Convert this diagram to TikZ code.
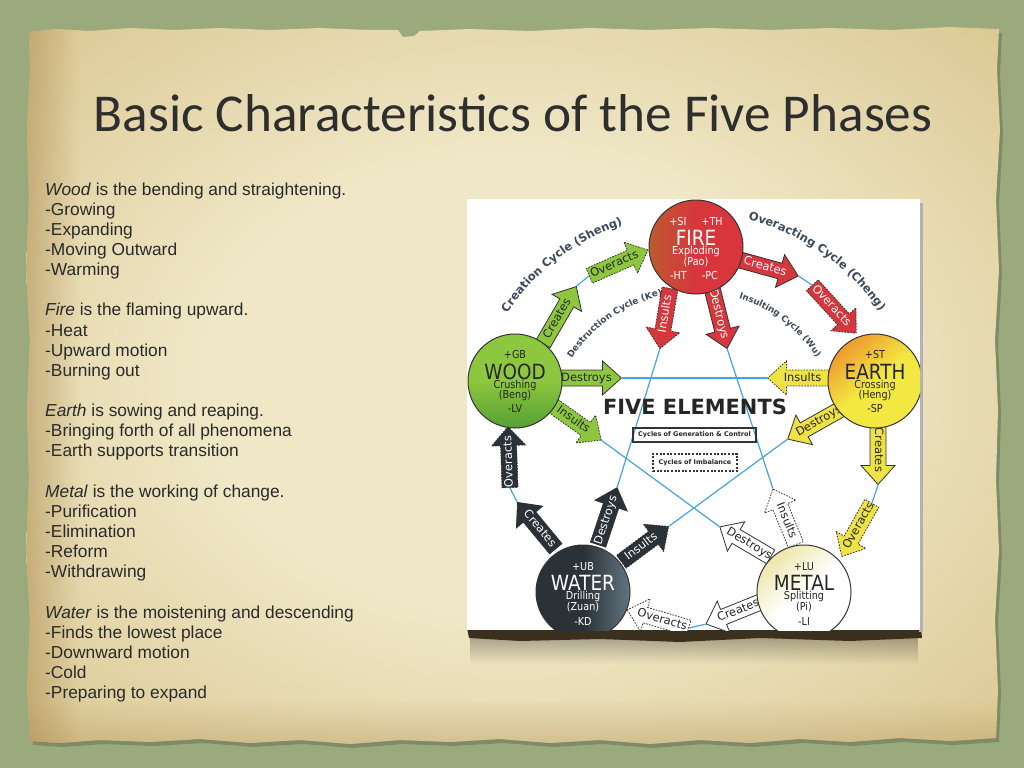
\documentclass[tikz,border=0pt]{standalone}
\usepackage{fontspec}
\setmainfont{Liberation Sans}
\newfontfamily\titlefont{Carlito}
\newfontfamily\dejavu{DejaVu Sans}
\newfontfamily\dejacond{DejaVu Sans}[FakeStretch=0.88]
\usetikzlibrary{shapes.arrows,decorations.text,fadings,calc}

\definecolor{felt}{HTML}{9BAA7D}
\definecolor{parchlight}{HTML}{EFE7C6}
\definecolor{parchmid}{HTML}{DDCB98}
\definecolor{parchdark}{HTML}{C2A062}
\definecolor{parchbrown}{HTML}{A9864C}
\definecolor{titlegray}{HTML}{2E2E2E}
\definecolor{inkbody}{HTML}{2A2A2A}
\definecolor{inkdark}{HTML}{262626}
\definecolor{edgegray}{HTML}{333333}
\definecolor{firered}{HTML}{D8363C}
\definecolor{firebrown}{HTML}{B4662C}
\definecolor{firearrowred}{HTML}{D5373D}
\definecolor{woodgreen}{HTML}{8DC63F}
\definecolor{wooddark}{HTML}{55A033}
\definecolor{earthyellow}{HTML}{F3E842}
\definecolor{earthorange}{HTML}{EE9A2E}
\definecolor{eartharrowyellow}{HTML}{EEE244}
\definecolor{waterdark}{HTML}{2A3137}
\definecolor{waterlight}{HTML}{617580}
\definecolor{metalcream}{HTML}{EDE7A8}
\definecolor{linkblue}{HTML}{45A3DD}
\definecolor{cyctext}{HTML}{3C4A5B}

\pgfdeclareradialshading{parchment}{\pgfpoint{0bp}{0bp}}{color(0bp)=(parchlight); color(16bp)=(parchlight); color(34bp)=(parchmid); color(48bp)=(parchdark); color(72bp)=(parchbrown)}

\newcommand\parchedge{(29,32) -- (55,29) -- (90,31) -- (130,28) -- (175,30) -- (220,28) -- (270,30) -- (320,28) -- (368,30) -- (398,30) -- (403,37) -- (414,36) -- (420,31) -- (470,29) -- (530,31) -- (590,28) -- (650,30) -- (710,28) -- (770,30) -- (830,28) -- (890,30) -- (950,27) -- (999,29)
  -- (997,70) -- (1000,130) -- (996,200) -- (999,270) -- (995,340) -- (998,410) -- (996,480) -- (999,550) -- (995,620) -- (998,690) -- (996,738)
  -- (950,741) -- (900,738) -- (850,742) -- (800,739) -- (750,743) -- (700,740) -- (650,744) -- (600,740) -- (550,743) -- (500,739) -- (450,742) -- (400,740) -- (350,744) -- (300,740) -- (250,743) -- (200,739) -- (150,742) -- (100,740) -- (60,743) -- (30,741)
  -- (27,690) -- (30,620) -- (26,550) -- (29,480) -- (27,410) -- (30,340) -- (26,270) -- (29,200) -- (27,130) -- (30,70) -- cycle}

\newcommand\cycfont{\dejavu\bfseries\fontsize{11.5}{12}\selectfont\color{cyctext}}
\newcommand\cycsmallfont{\dejavu\bfseries\fontsize{9}{9}\selectfont\color{cyctext}}

\tikzset{
  bodytext/.style={anchor=base west, inner sep=0pt, text=inkbody, font=\fontsize{17.4}{20}\selectfont},
  phasearrow/.style={single arrow, draw=edgegray, line width=0.8bp, single arrow head extend=9bp,
    single arrow tip angle=84, inner xsep=-4bp, inner ysep=2bp, text height=8.6bp, text depth=2.6bp,
    anchor=tail, font=\dejavu\fontsize{11.5}{11.5}\selectfont},
  reversed/.style={shape border rotate=180},
  imbalance/.style={dash pattern=on 1.6bp off 1.3bp},
  firearrow/.style={phasearrow, fill=firearrowred, text=white},
  woodarrow/.style={phasearrow, fill=woodgreen, text=inkdark},
  eartharrow/.style={phasearrow, fill=eartharrowyellow, text=inkdark},
  metalarrow/.style={phasearrow, fill=white, text=inkdark},
  waterarrow/.style={phasearrow, fill=waterdark, text=white},
  cyclink/.style={draw=linkblue, line width=1.2bp},
  phase/.style={circle, draw=edgegray, line width=1bp, minimum size=94bp, inner sep=0pt},
  phasename/.style={inner sep=0pt, font=\dejacond\fontsize{21}{21}\selectfont},
  phasenote/.style={inner sep=0pt, font=\dejacond\fontsize{11}{11}\selectfont},
}

\begin{document}
\begin{tikzpicture}[x=1bp, y=-1bp]
\useasboundingbox (0,0) rectangle (1024,768);

% felt and parchment
\fill[felt] (0,0) rectangle (1024,768);
\fill[black, opacity=0.18, xshift=3bp, yshift=-4bp] \parchedge;
\shade[shading=parchment] \parchedge;
\begin{scope}
\clip \parchedge;
\fill[parchbrown, opacity=0.55, path fading=east] (20,20) rectangle (80,750);
\fill[parchbrown, opacity=0.35, path fading=north] (20,700) rectangle (1005,750);
\end{scope}

\node[font=\titlefont\fontsize{53.5}{53.5}\selectfont, text=titlegray, anchor=base] (title) at (513,131) {Basic Characteristics of the Five Phases};

\foreach \n/\words in {0/{\textit{Wood} is the bending and straightening.}, 1/-Growing, 2/-Expanding, 3/-Moving Outward, 4/-Warming,
    6/{\textit{Fire} is the flaming upward.}, 7/-Heat, 8/-Upward motion, 9/-Burning out,
    11/{\textit{Earth} is sowing and reaping.}, 12/-Bringing forth of all phenomena, 13/-Earth supports transition,
    15/{\textit{Metal} is the working of change.}, 16/-Purification, 17/-Elimination, 18/-Reform, 19/-Withdrawing,
    21/{\textit{Water} is the moistening and descending}, 22/-Finds the lowest place, 23/-Downward motion, 24/-Cold, 25/-Preparing to expand}
  \node[bodytext] (line\n) at (45,{195+20.15*\n}) {\words};

% panel and its shadow
\fill[black, opacity=0.3, path fading=south] (470,636) rectangle (918,664);
\fill[black!70!parchdark] (467,628) -- (921,628) -- (922,638) -- (850,641) -- (760,638) -- (680,642) -- (600,639) -- (520,641) -- (469,638) -- cycle;
\fill[black!30] (919,203) rectangle (923,632);
\fill[white] (467,199) rectangle (920,630);

\begin{scope}
\clip (467,199) rectangle (920,630);
\coordinate (hub) at (694,437);

% fire arrows
\node[firearrow, rotate=-15.4, minimum height=60bp] (fireCreates) at (740,260) {Creates};
\node[firearrow, imbalance, rotate=-47.5, minimum height=65bp] (fireOveracts) at (812,285) {Overacts};
\node[firearrow, imbalance, reversed, rotate=80.5, minimum height=61bp] (fireInsults) at (670,288) {Insults};
\node[firearrow, rotate=-76, minimum height=62bp] (fireDestroys) at (712,288) {Destroys};

% wood arrows
\node[woodarrow, rotate=59.9, minimum height=66bp] (woodCreates) at (543,344) {Creates};
\node[woodarrow, imbalance, rotate=23.8, minimum height=64bp] (woodOveracts) at (589,276) {Overacts};
\node[woodarrow, minimum height=61bp] (woodDestroys) at (560,378) {Destroys};
\node[woodarrow, imbalance, rotate=-35.5, minimum height=60bp] (woodInsults) at (552,405) {Insults};

% earth arrows
\node[eartharrow, imbalance, reversed, minimum height=61bp] (earthInsults) at (829,378) {Insults};
\node[eartharrow, reversed, rotate=29.4, minimum height=63bp] (earthDestroys) at (843,408) {Destroys};
\node[eartharrow, rotate=-90, minimum height=60bp] (earthCreates) at (878,424) {Creates};
\node[eartharrow, imbalance, reversed, rotate=60.5, minimum height=61bp] (earthOveracts) at (872,503) {Overacts};

% metal arrows
\node[metalarrow, imbalance, reversed, rotate=-67.7, minimum height=60bp] (metalInsults) at (796,545) {Insults};
\node[metalarrow, reversed, rotate=-30.5, minimum height=59bp] (metalDestroys) at (771,557) {Destroys};
\node[metalarrow, reversed, rotate=22, minimum height=61bp] (metalCreates) at (763,601) {Creates};
\node[metalarrow, imbalance, reversed, rotate=-16.4, minimum height=64bp] (metalOveracts) at (689,628) {Overacts};

% water arrows
\node[waterarrow, imbalance, rotate=91.9, minimum height=61bp] (waterOveracts) at (510,488) {Overacts};
\node[waterarrow, reversed, rotate=-50.4, minimum height=60bp] (waterCreates) at (556,549) {Creates};
\node[waterarrow, rotate=71.6, minimum height=60bp] (waterDestroys) at (598,545) {Destroys};
\node[waterarrow, imbalance, rotate=36.7, minimum height=59bp] (waterInsults) at (621,562) {Insults};

% creation links
\draw[cyclink] (woodCreates.tip) -- (woodOveracts.tail);
\draw[cyclink] (fireCreates.tip) -- (fireOveracts.tail);
\draw[cyclink] (earthCreates.tip) -- (earthOveracts.tail);
\draw[cyclink] (metalCreates.tip) -- (metalOveracts.tail);
\draw[cyclink] (waterCreates.tip) -- (waterOveracts.tail);
% destruction links
\draw[cyclink] (woodDestroys.tip) -- (earthInsults.tip);
\draw[cyclink] (fireDestroys.tip) -- (metalInsults.tip);
\draw[cyclink] (earthDestroys.tip) -- (waterInsults.tip);
\draw[cyclink] (metalDestroys.tip) -- (woodInsults.tip);
\draw[cyclink] (waterDestroys.tip) -- (fireInsults.tip);

% the five phases
\node[phase, left color=firebrown!75!firered, right color=firered, middle color=firered] (fire) at (696,247) {};
\node[phasenote, text=white] (fireTop) at ($(fire.center)+(0,-25)$) {+SI\hspace{15bp}+TH};
\node[phasename, text=white] (fireName) at ($(fire.center)+(0,-9)$) {FIRE};
\node[phasenote, text=white] (fireVerb) at ($(fire.center)+(0,4.5)$) {Exploding};
\node[phasenote, text=white] (fireCn) at ($(fire.center)+(0,15)$) {(Pao)};
\node[phasenote, text=white] (fireLow) at ($(fire.center)+(-2,29)$) {-HT\hspace{15bp}-PC};

\node[phase, top color=woodgreen, bottom color=wooddark, middle color=woodgreen] (wood) at (515,381) {};
\node[phasenote, text=inkdark] (woodTop) at ($(wood.center)+(0,-26)$) {+GB};
\node[phasename, text=inkdark] (woodName) at ($(wood.center)+(0,-9.5)$) {WOOD};
\node[phasenote, text=inkdark] (woodVerb) at ($(wood.center)+(0,4)$) {Crushing};
\node[phasenote, text=inkdark] (woodCn) at ($(wood.center)+(0,14)$) {(Beng)};
\node[phasenote, text=inkdark] (woodLow) at ($(wood.center)+(0,28)$) {-LV};

\node[phase, top color=earthorange, bottom color=earthyellow, middle color=earthyellow, shading angle=40] (earth) at (875,381) {};
\node[phasenote, text=inkdark] (earthTop) at ($(earth.center)+(0,-26)$) {+ST};
\node[phasename, text=inkdark] (earthName) at ($(earth.center)+(0,-9.5)$) {EARTH};
\node[phasenote, text=inkdark] (earthVerb) at ($(earth.center)+(0,4)$) {Crossing};
\node[phasenote, text=inkdark] (earthCn) at ($(earth.center)+(0,14)$) {(Heng)};
\node[phasenote, text=inkdark] (earthLow) at ($(earth.center)+(0,28)$) {-SP};

\node[phase, left color=waterdark, right color=waterlight, middle color=waterdark] (water) at (583,592) {};
\node[phasenote, text=white] (waterTop) at ($(water.center)+(0,-25)$) {+UB};
\node[phasename, text=white] (waterName) at ($(water.center)+(0,-9.5)$) {WATER};
\node[phasenote, text=white] (waterVerb) at ($(water.center)+(0,4.5)$) {Drilling};
\node[phasenote, text=white] (waterCn) at ($(water.center)+(0,15)$) {(Zuan)};
\node[phasenote, text=white] (waterLow) at ($(water.center)+(0,29)$) {-KD};

\node[phase, top color=metalcream, bottom color=white, middle color=white, shading angle=40] (metal) at (804,592) {};
\node[phasenote, text=inkdark] (metalTop) at ($(metal.center)+(0,-25)$) {+LU};
\node[phasename, text=inkdark] (metalName) at ($(metal.center)+(0,-9.5)$) {METAL};
\node[phasenote, text=inkdark] (metalVerb) at ($(metal.center)+(0,4.5)$) {Splitting};
\node[phasenote, text=inkdark] (metalCn) at ($(metal.center)+(0,15)$) {(Pi)};
\node[phasenote, text=inkdark] (metalLow) at ($(metal.center)+(0,29)$) {-LI};

% cycle names
\path[decorate, decoration={text along path, text align=center, text={|\cycfont|Creation Cycle (Sheng)}}]
  ([shift={(155:224bp)}]hub) arc[start angle=155, end angle=100, radius=224bp];
\path[decorate, decoration={text along path, text align=center, text={|\cycfont|Overacting Cycle (Cheng)}}]
  ([shift={(85:224bp)}]hub) arc[start angle=85, end angle=25, radius=224bp];
\path[decorate, decoration={text along path, text align=center, text={|\cycsmallfont|Destruction Cycle (Ke)}}]
  ([shift={(155:145bp)}]hub) arc[start angle=155, end angle=95, radius=145bp];
\path[decorate, decoration={text along path, text align=center, text={|\dejavu\bfseries\fontsize{8.8}{9}\selectfont\color{cyctext}|Insulting Cycle (Wu)}}]
  ([shift={(85:146bp)}]hub) arc[start angle=85, end angle=20, radius=146bp];

\node[font=\dejavu\bfseries\fontsize{21}{21}\selectfont, text=inkdark] (elements) at (695,406.5) {FIVE ELEMENTS};
\node[draw=edgegray, line width=1.1bp, minimum width=123bp, minimum height=14bp, inner sep=0pt,
  font=\dejavu\bfseries\fontsize{6.5}{6.5}\selectfont, text=inkdark] (genbox) at (694.5,435) {Cycles of Generation \& Control};
\node[draw=edgegray, line width=1.1bp, dash pattern=on 2bp off 1.6bp, minimum width=84bp, minimum height=17bp, inner sep=0pt,
  font=\dejavu\bfseries\fontsize{6.5}{6.5}\selectfont, text=inkdark] (imbbox) at (695,462.5) {Cycles of Imbalance};
\end{scope}
\end{tikzpicture}
\end{document}
